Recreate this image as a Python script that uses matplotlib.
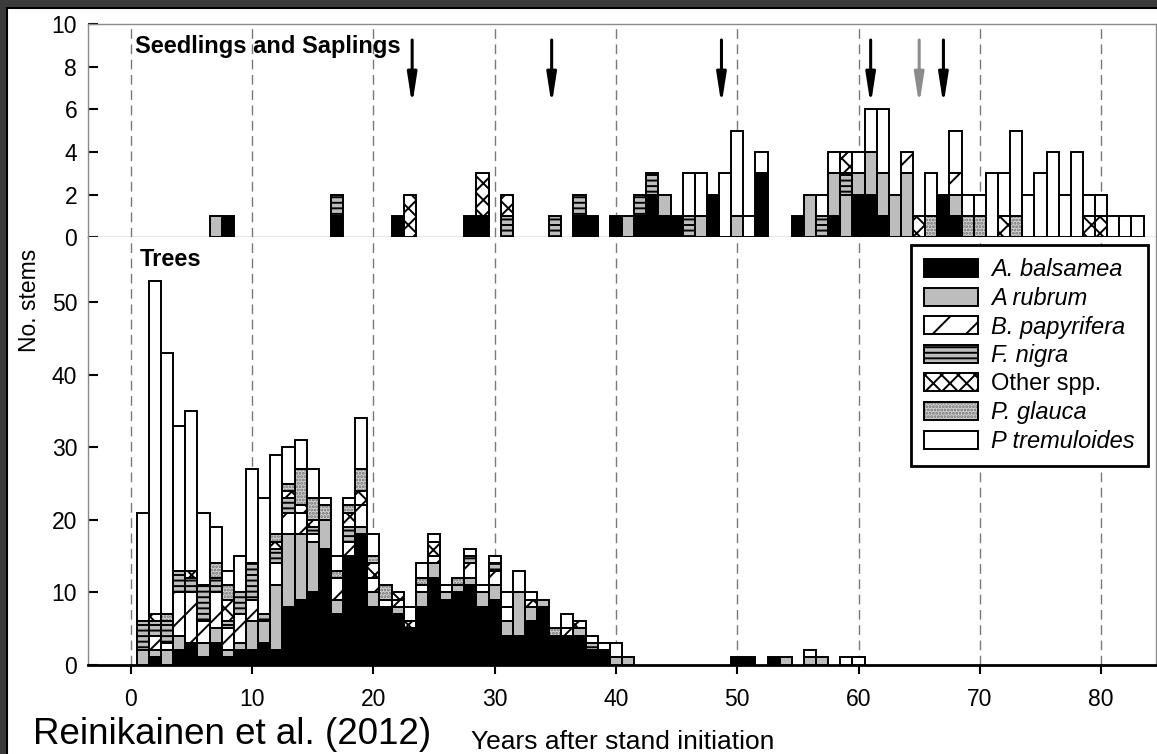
import numpy as np
import matplotlib.pyplot as plt
from matplotlib.patches import Patch, Rectangle

plt.rcParams['font.family'] = ['Liberation Sans', 'DejaVu Sans']
plt.rcParams['hatch.linewidth'] = 1.4

species = ['A. balsamea', 'A rubrum', 'B. papyrifera', 'F. nigra',
           'Other spp.', 'P. glauca', 'P tremuloides']

# Seedlings and saplings (top panel)
sap_years = [7, 8, 17, 22, 23, 28, 29, 31, 35, 37, 38, 40, 41, 42, 43, 44, 45,
             46, 47, 48, 49, 50, 51, 52, 55, 56, 57, 58, 59, 60, 61, 62, 63, 64,
             65, 66, 67, 68, 69, 70, 71, 72, 73, 74, 75, 76, 77, 78, 79, 80, 81,
             82, 83]
sap_balsamea = [0, 1, 1, 1, 0, 1, 1, 0, 0, 1, 1, 1, 0, 1, 2, 1, 1,
                0, 0, 2, 0, 0, 0, 3, 1, 0, 0, 1, 0, 2, 2, 1, 0, 0,
                0, 0, 2, 1, 0, 0, 0, 0, 0, 0, 0, 0, 0, 0, 0, 0, 0, 0, 0]
sap_rubrum = [1, 0, 0, 0, 0, 0, 0, 0, 0, 0, 0, 0, 1, 0, 0, 1, 0,
              0, 1, 0, 0, 1, 0, 0, 0, 2, 0, 2, 2, 1, 2, 2, 2, 3,
              0, 0, 0, 1, 0, 0, 0, 0, 0, 0, 0, 0, 0, 0, 0, 0, 0, 0, 0]
sap_papyrifera = [0, 0, 0, 0, 0, 0, 0, 0, 0, 0, 0, 0, 0, 0, 0, 0, 0,
                  0, 0, 0, 0, 0, 0, 0, 0, 0, 0, 0, 0, 0, 0, 0, 0, 1,
                  0, 0, 0, 1, 0, 0, 0, 0, 0, 0, 0, 0, 0, 0, 0, 0, 0, 0, 0]
sap_nigra = [0, 0, 1, 0, 0, 0, 0, 1, 1, 1, 0, 0, 0, 1, 1, 0, 0,
             1, 0, 0, 0, 0, 0, 0, 0, 0, 1, 0, 1, 0, 0, 0, 0, 0,
             0, 0, 0, 0, 0, 0, 0, 0, 0, 0, 0, 0, 0, 0, 0, 0, 0, 0, 0]
sap_other = [0, 0, 0, 0, 2, 0, 2, 1, 0, 0, 0, 0, 0, 0, 0, 0, 0,
             0, 0, 0, 0, 0, 0, 0, 0, 0, 0, 0, 1, 0, 0, 0, 0, 0,
             1, 0, 0, 0, 0, 0, 0, 1, 0, 0, 0, 0, 0, 0, 1, 1, 0, 0, 0]
sap_glauca = [0, 0, 0, 0, 0, 0, 0, 0, 0, 0, 0, 0, 0, 0, 0, 0, 0,
              0, 0, 0, 0, 0, 0, 0, 0, 0, 0, 0, 0, 0, 0, 0, 0, 0,
              0, 1, 0, 0, 1, 1, 0, 0, 1, 0, 0, 0, 0, 0, 0, 0, 0, 0, 0]
sap_tremuloides = [0, 0, 0, 0, 0, 0, 0, 0, 0, 0, 0, 0, 0, 0, 0, 0, 0,
                   2, 2, 0, 3, 4, 1, 1, 0, 0, 1, 1, 0, 1, 2, 3, 0, 0,
                   0, 2, 0, 2, 1, 1, 3, 2, 4, 2, 3, 4, 2, 4, 1, 1, 1, 1, 1]

# Trees (bottom panel)
tree_years = list(range(1, 42)) + [50, 51, 53, 54, 56, 57, 59, 60]
tree_balsamea = [0, 1, 0, 2, 3, 1, 3, 1, 2, 2, 3, 2, 8, 9, 10, 16, 7, 15, 18, 8,
                 8, 7, 5, 8, 12, 9, 10, 11, 8, 9, 4, 4, 6, 8, 4, 4, 4, 2, 2, 0,
                 0, 1, 1, 1, 0, 0, 0, 0, 0]
tree_rubrum = [2, 1, 2, 2, 0, 2, 2, 1, 1, 4, 3, 9, 10, 9, 7, 4, 2, 0, 1, 2,
               0, 1, 0, 2, 2, 1, 1, 1, 2, 2, 2, 6, 2, 1, 0, 0, 1, 0, 0, 1,
               1, 0, 0, 0, 1, 1, 1, 0, 0]
tree_papyrifera = [0, 2, 1, 6, 7, 3, 5, 3, 4, 3, 0, 3, 3, 3, 1, 0, 3, 2, 3, 2,
                   1, 1, 0, 1, 1, 0, 0, 2, 0, 2, 2, 0, 0, 0, 0, 1, 0, 0, 0, 0,
                   0, 0, 0, 0, 0, 0, 0, 0, 0]
tree_nigra = [4, 2, 3, 3, 2, 5, 2, 1, 3, 5, 1, 2, 2, 0, 1, 0, 0, 2, 0, 0,
              0, 0, 0, 0, 0, 0, 0, 1, 0, 1, 0, 0, 0, 0, 0, 0, 0, 1, 0, 0,
              0, 0, 0, 0, 0, 0, 0, 0, 0]
tree_other = [0, 1, 0, 0, 1, 0, 0, 3, 0, 0, 0, 1, 1, 1, 1, 0, 0, 2, 2, 2,
              0, 1, 1, 0, 2, 0, 0, 0, 0, 0, 0, 0, 1, 0, 0, 0, 1, 0, 0, 0,
              0, 0, 0, 0, 0, 0, 0, 0, 0]
tree_glauca = [0, 0, 1, 0, 0, 0, 2, 2, 0, 0, 0, 1, 1, 5, 3, 2, 1, 1, 3, 1,
               2, 0, 0, 1, 0, 0, 1, 0, 0, 0, 0, 0, 0, 0, 1, 0, 0, 0, 0, 0,
               0, 0, 0, 0, 0, 0, 0, 0, 0]
tree_tremuloides = [15, 46, 36, 20, 22, 10, 5, 2, 5, 13, 16, 11, 5, 4, 4, 1, 2, 1, 7, 3,
                    0, 0, 2, 2, 1, 1, 0, 1, 1, 1, 2, 3, 1, 0, 0, 2, 0, 1, 1, 2,
                    0, 0, 0, 0, 0, 1, 0, 1, 1]

# disturbance arrows in the top panel
arrow_years = [23.2, 34.7, 48.7, 61, 65, 67]
arrow_colors = ['black', 'black', 'black', 'black', '#8c8c8c', 'black']

faces = ['black', '#bdbdbd', 'white', '#bdbdbd', 'white', '#d2d2d2', 'white']
hatches = [None, None, '/', '---', 'xx', '.....', None]
hatch_cols = ['black', 'black', 'black', 'black', 'black', '#707070', 'black']


def stack(ax, years, series):
    years = np.asarray(years, float)
    bottom = np.zeros(len(years))
    for vals, face, hatch, hc in zip(series, faces, hatches, hatch_cols):
        vals = np.asarray(vals, float)
        m = vals > 0
        ax.bar(years[m], vals[m], width=1, bottom=bottom[m], color=face,
               edgecolor=hc, linewidth=0, hatch=hatch, zorder=3)
        ax.bar(years[m], vals[m], width=1, bottom=bottom[m], fill=False,
               edgecolor='black', linewidth=1.4, zorder=4)
        bottom += vals


fig = plt.figure(figsize=(11.57, 7.54), dpi=100, facecolor='#3b3b3b')
fig.add_artist(Rectangle((7 / 1157, -0.01), 1.0, 1 - 8 / 754 + 0.01,
                         transform=fig.transFigure, facecolor='white',
                         edgecolor='black', lw=1.5, zorder=0))

L, W = 88.3 / 1157, (1155.7 - 88.3) / 1157
axT = fig.add_axes([L, 1 - 237.3 / 754, W, (237.3 - 24) / 754])
axB = fig.add_axes([L, 1 - 664.7 / 754, W, (664.7 - 237.3) / 754])

stack(axT, sap_years, [sap_balsamea, sap_rubrum, sap_papyrifera, sap_nigra,
                       sap_other, sap_glauca, sap_tremuloides])
stack(axB, tree_years, [tree_balsamea, tree_rubrum, tree_papyrifera, tree_nigra,
                        tree_other, tree_glauca, tree_tremuloides])

for ax in (axT, axB):
    ax.set_xlim(-3.5, 84.5)
    for xv in range(0, 90, 10):
        ax.axvline(xv, color='#7a7a7a', lw=1, ls=(0, (7, 4)), zorder=1)
    for s in ax.spines.values():
        s.set_color('#8a8a8a')
        s.set_linewidth(1)
    ax.tick_params(axis='y', direction='in', length=7, width=1.5,
                   labelsize=16.5, pad=8, color='black')

axT.set_ylim(0, 10)
axT.set_yticks(range(0, 11, 2))
axT.set_xticks([])

axB.set_ylim(0, 59)
axB.set_yticks(range(0, 51, 10))
axB.set_xticks(range(0, 81, 10))
axB.spines['top'].set_visible(False)
axB.spines['bottom'].set_color('black')
axB.spines['bottom'].set_linewidth(2)
axB.tick_params(axis='x', direction='out', length=6.5, width=1.5,
                labelsize=16.5, pad=10)

# arrows
for xa, col in zip(arrow_years, arrow_colors):
    axT.annotate('', xy=(xa, 6.2), xytext=(xa, 9.25),
                 arrowprops=dict(arrowstyle='-|>,head_length=1.8,head_width=0.28',
                                 color=col, lw=2.2, shrinkA=0, shrinkB=0,
                                 mutation_scale=10), zorder=5)

axT.text(0.37, 8.94, 'Seedlings and Saplings', fontsize=17,
         fontweight='bold', ha='left', va='center', zorder=6)
axB.text(0.78, 56.0, 'Trees', fontsize=17, fontweight='bold',
         ha='left', va='center', zorder=6)

handles = [(Patch(facecolor=f, edgecolor=hc, lw=0, hatch=h),
            Patch(fill=False, edgecolor='black', lw=1.4))
           for f, h, hc in zip(faces, hatches, hatch_cols)]
leg = axB.legend(handles, species, loc='upper right',
                 bbox_to_anchor=(1148 / 1157, 1 - 245 / 754),
                 bbox_transform=fig.transFigure, fontsize=17,
                 handlelength=2.3, handleheight=0.8, labelspacing=0.245,
                 borderpad=0.55, handletextpad=0.55, borderaxespad=0,
                 frameon=True, fancybox=False, edgecolor='black', framealpha=1)
leg.get_frame().set_linewidth(2)
leg.set_zorder(10)
for t, name in zip(leg.get_texts(), species):
    if name != 'Other spp.':
        t.set_style('italic')

fig.text(30 / 1157, 1 - 300 / 754, 'No. stems', rotation=90, fontsize=16.5,
         ha='center', va='center')
fig.text(623 / 1157, 1 - 742 / 754, 'Years after stand initiation',
         fontsize=19, ha='center', va='center')
fig.text(33 / 1157, 1 - 735 / 754, 'Reinikainen et al. (2012)', fontsize=26.5,
         ha='left', va='center')

fig.savefig('out.png', dpi=100, facecolor=fig.get_facecolor())
